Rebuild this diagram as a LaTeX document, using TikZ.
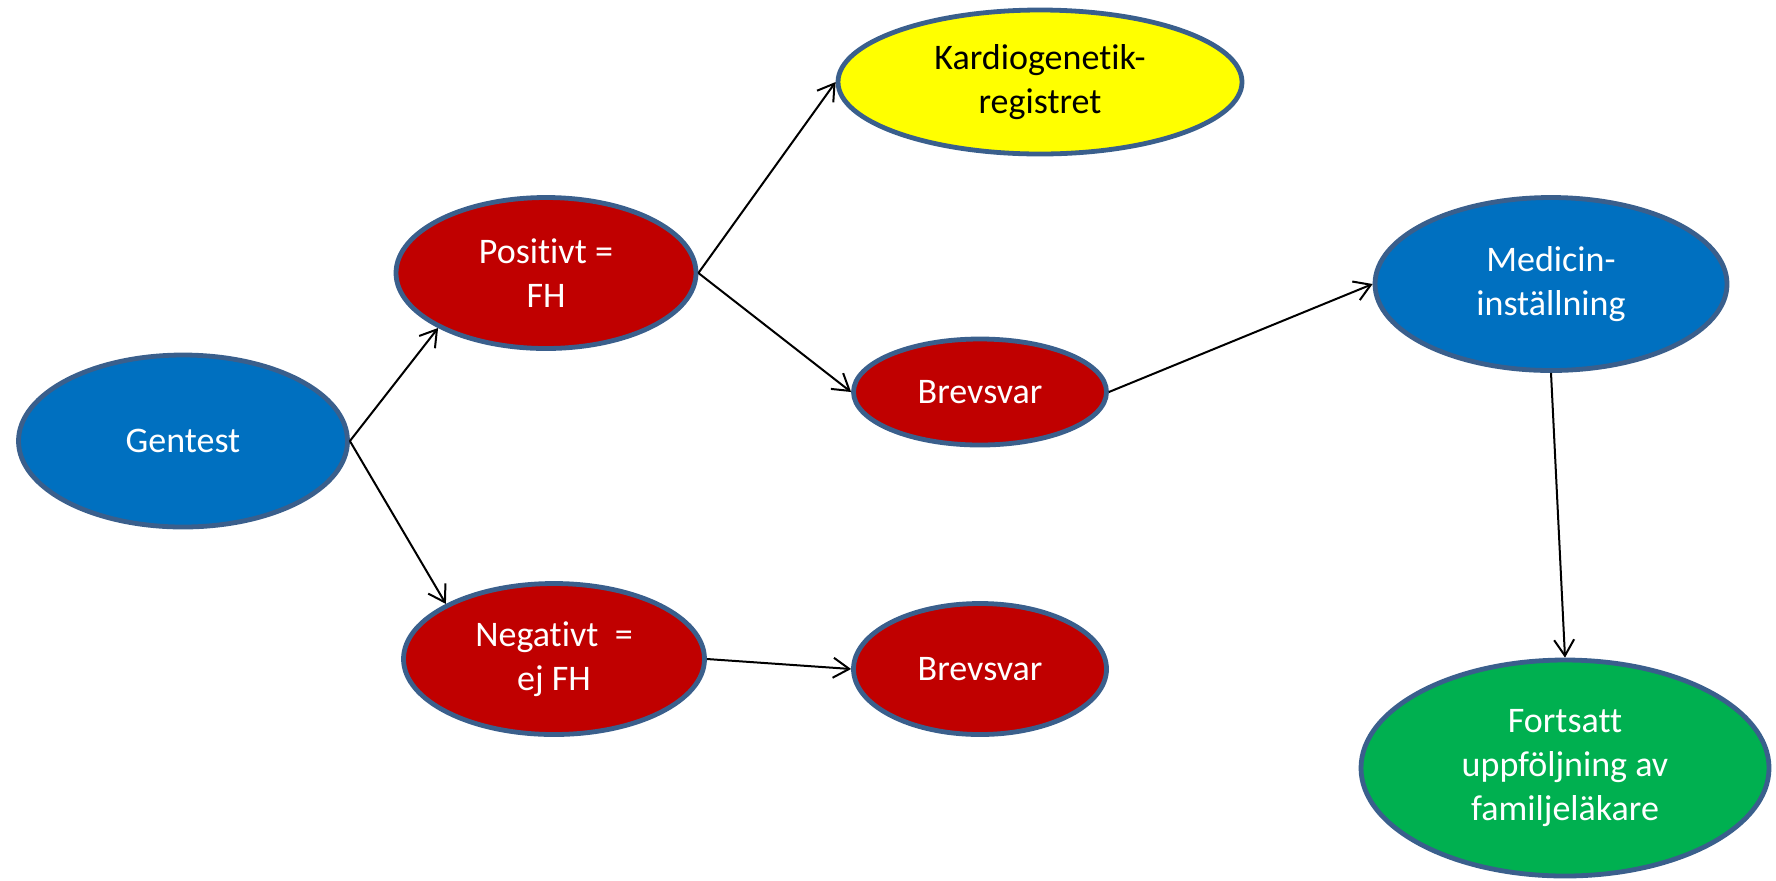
\documentclass[tikz,border=0pt]{standalone}
\usepackage{fontspec}
\setmainfont{Carlito}[Ligatures={NoCommon,NoDiscretionary,NoContextual}]
\usetikzlibrary{shapes.geometric,arrows.meta}
\definecolor{edgeblue}{HTML}{3A5F8C}
\definecolor{nred}{HTML}{C00000}
\definecolor{nblue}{HTML}{0070C0}
\definecolor{nyellow}{HTML}{FFFF00}
\definecolor{ngreen}{HTML}{00B050}
\tikzset{
  blob/.style={ellipse, draw=edgeblue, line width=2.4pt, inner sep=0pt, align=center,
    font=\fontsize{18}{22}\selectfont, text=white},
  redblob/.style={blob, fill=nred},
  blueblob/.style={blob, fill=nblue},
  conn/.style={draw=black, line width=1pt, -{Straight Barb[length=8pt,width=10pt,line width=1pt]}}
}
\begin{document}
\begin{tikzpicture}[x=0.5pt,y=-0.5pt]
\useasboundingbox (0,0) rectangle (1776,880);
\node[blueblob, minimum width=164.5pt, minimum height=86pt] (gen) at (183,441) {Gentest};
\node[redblob, minimum width=150pt, minimum height=75.5pt] (pos) at (546,273) {Positivt =\\FH};
\node[redblob, minimum width=150.5pt, minimum height=75.5pt] (neg) at (554,659) {Negativt\ \ =\\ej FH};
\node[blob, fill=nyellow, text=black, minimum width=202pt, minimum height=72pt] (kar) at (1040,82) {Kardiogenetik-\\registret};
\node[redblob, minimum width=126.5pt, minimum height=53pt] (brt) at (980,392) {Brevsvar};
\node[redblob, minimum width=126.5pt, minimum height=65.5pt] (brb) at (980,669) {Brevsvar};
\node[blueblob, minimum width=176pt, minimum height=86.5pt] (med) at (1551,284) {Medicin-\\inställning};
\node[blob, fill=ngreen, minimum width=204pt, minimum height=108pt] (fort) at (1565,768) {Fortsatt\\uppföljning av\\familjeläkare};
\draw[conn] (gen.east) -- (pos.207);
\draw[conn] (gen.east) -- (neg.153);
\draw[conn] (pos.east) -- (kar.west);
\draw[conn] (pos.east) -- (brt.west);
\draw[conn] (brt.east) -- (med.west);
\draw[conn] (neg.east) -- (brb.west);
\draw[conn] (med.south) -- (fort.north);
\end{tikzpicture}
\end{document}
